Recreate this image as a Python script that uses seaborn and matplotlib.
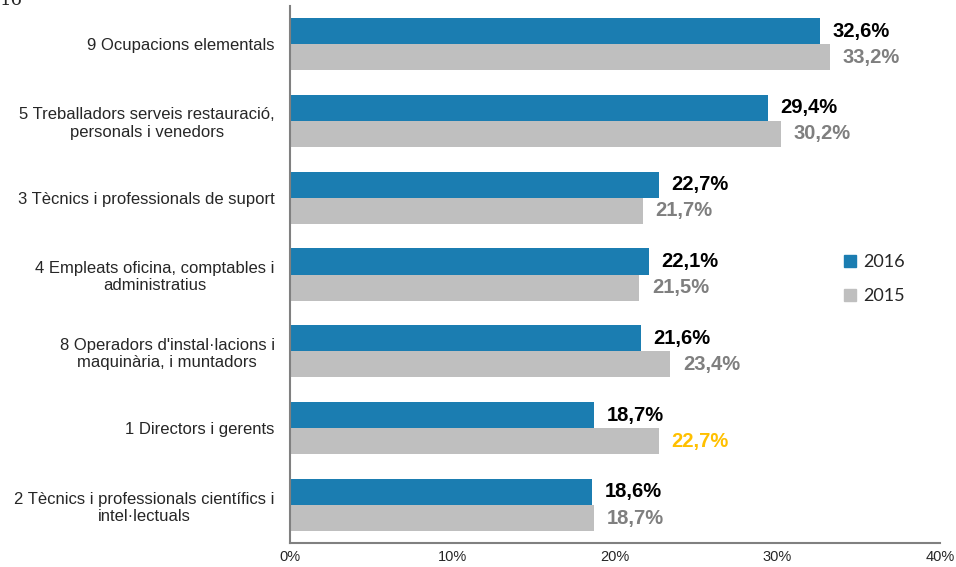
import pandas as pd
import matplotlib.pyplot as plt
import seaborn as sns
from matplotlib.patches import Patch
from matplotlib.ticker import FuncFormatter

# Dades
categories = [
    "9 Ocupacions elementals",
    "5 Treballadors serveis restauració,\npersonals i venedors",
    "3 Tècnics i professionals de suport",
    "4 Empleats oficina, comptables i\nadministratius",
    "8 Operadors d'instal·lacions i\nmaquinària, i muntadors",
    "1 Directors i gerents",
    "2 Tècnics i professionals científics i\nintel·lectuals",
]
values_2016 = [32.6, 29.4, 22.7, 22.1, 21.6, 18.7, 18.6]
values_2015 = [33.2, 30.2, 21.7, 21.5, 23.4, 22.7, 18.7]
years = ["2016", "2015"]
x_ticks = [0, 10, 20, 30, 40]

colors = {"2016": "#1B7DB1", "2015": "#BFBFBF"}
label_colors_2015 = ["#7F7F7F"] * 7
label_colors_2015[5] = "#FFC000"

df = pd.DataFrame({
    "cat": categories * 2,
    "year": [years[0]] * 7 + [years[1]] * 7,
    "val": values_2016 + values_2015,
})

sns.set_style("white")
plt.rcParams['font.family'] = ['Liberation Sans', 'DejaVu Sans']

fig = plt.figure(figsize=(9.56, 5.67), dpi=100)
ax = fig.add_axes([0.3033, 0.0416, 0.68, 0.9484])

sns.barplot(data=df, y="cat", x="val", hue="year", hue_order=years,
            palette=colors, orient="h", width=0.68, ax=ax, legend=False,
            saturation=1, linewidth=0)

ax.set_xlim(0, 40)
ax.set_ylim(6.5, -0.5)
ax.set_xticks(x_ticks)
ax.xaxis.set_major_formatter(FuncFormatter(lambda v, p: f"{int(v)}%"))
ax.tick_params(axis='x', labelsize=10.5, length=0, pad=5)
ax.tick_params(axis='y', labelsize=12, length=0, pad=11)
for t in ax.get_yticklabels():
    t.set_multialignment('center')
ax.set_xlabel("")
ax.set_ylabel("")

for s in ["top", "right"]:
    ax.spines[s].set_visible(False)
for s in ["left", "bottom"]:
    ax.spines[s].set_color("#808080")
    ax.spines[s].set_linewidth(1.5)

# etiquetes de valors
c16, c15 = ax.containers[0], ax.containers[1]
labels16 = ax.bar_label(c16, labels=[f"{v:.1f}%".replace(".", ",") for v in values_2016],
                        padding=9, fontsize=14.5, fontweight="bold", color="black")
labels15 = ax.bar_label(c15, labels=[f"{v:.1f}%".replace(".", ",") for v in values_2015],
                        padding=9, fontsize=14.5, fontweight="bold")
for t, c in zip(labels15, label_colors_2015):
    t.set_color(c)

handles = [Patch(color=colors[y], label=y) for y in years]
fig.legend(handles=handles, loc="upper left", bbox_to_anchor=(0.866, 0.58),
           frameon=False, prop={"family": ["Lato", "DejaVu Sans"], "size": 13},
           handlelength=0.65, handleheight=0.65,
           handletextpad=0.4, labelspacing=1.0)

fig.text(0.0, 1.0, "16", fontsize=13, family="serif", va="center", ha="left")

plt.savefig("out.png", dpi=100)
